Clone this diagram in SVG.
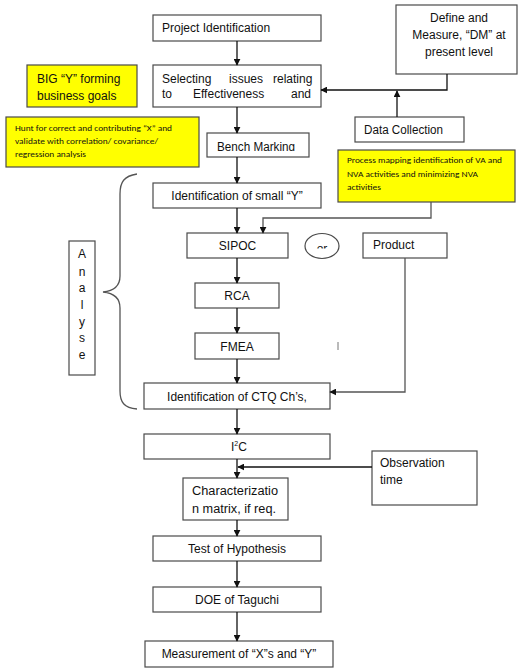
<svg xmlns="http://www.w3.org/2000/svg" width="518" height="668" viewBox="0 0 518 668">
<style>
.box{fill:#fff;stroke:#4a4a4a;stroke-width:1.2}
.yel{fill:#ffff00;stroke:#4a4a4a;stroke-width:1.2}
.t{font-family:"Liberation Sans",Arial,sans-serif;font-size:12px;fill:#111}
.c{text-anchor:middle}
.s{font-family:Carlito,"Open Sans","Liberation Sans",sans-serif;font-size:8px;fill:#111}
.ln{fill:none;stroke:#111;stroke-width:1.3}
.gl{fill:none;stroke:#555;stroke-width:1.3}
</style>
<defs>
<marker id="ah" viewBox="0 0 10 10" refX="9" refY="5" markerWidth="7" markerHeight="7" orient="auto" markerUnits="userSpaceOnUse">
<path d="M0,0 L10,5 L0,10 z" fill="#111"/>
</marker>
<clipPath id="clipBench"><rect x="207" y="133" width="102" height="18"/></clipPath>
<clipPath id="clipOr"><rect x="300" y="230" width="44" height="18.5"/></clipPath>
</defs>

<g id="project-identification"><rect class="box" x="153" y="15" width="168" height="26"/><text class="t" x="162" y="32" font-size="11.5">Project Identification</text></g>

<g id="selecting-issues"><rect class="box" x="153" y="65" width="168" height="42"/>
<text class="t" y="83" font-size="13"><tspan x="162">Selecting</tspan><tspan x="229">issues</tspan><tspan x="273">relating</tspan></text>
<text class="t" y="98" font-size="13"><tspan x="162">to</tspan><tspan x="193">Effectiveness</tspan><tspan x="291">and</tspan></text></g>

<g id="big-y"><rect class="yel" x="27" y="65" width="110" height="42"/>
<text class="t" x="37" y="83" font-size="13.5">BIG “Y” forming</text>
<text class="t" x="37" y="100" font-size="13.5">business goals</text></g>

<g id="hunt"><rect class="yel" x="6" y="117" width="193" height="50"/>
<text class="s" x="15" y="131" textLength="157" lengthAdjust="spacingAndGlyphs">Hunt for correct and contributing “X” and</text>
<text class="s" x="15" y="144" textLength="143" lengthAdjust="spacingAndGlyphs">validate with correlation/ covariance/</text>
<text class="s" x="15" y="157" textLength="71" lengthAdjust="spacingAndGlyphs">regression analysis</text></g>

<g id="bench-marking"><rect class="box" x="207" y="133" width="102" height="24"/>
<text class="t" x="217" y="151" clip-path="url(#clipBench)" textLength="78" lengthAdjust="spacingAndGlyphs">Bench Marking</text></g>

<g id="define-measure"><rect class="box" x="396" y="5" width="121" height="69"/>
<text class="t c" x="459" y="22" font-size="13">Define and</text>
<text class="t c" x="459" y="39" font-size="13">Measure, “DM” at</text>
<text class="t c" x="459" y="56" font-size="13">present level</text></g>

<g id="data-collection"><rect class="box" x="355" y="117" width="109" height="25"/>
<text class="t" x="364" y="134" textLength="79" lengthAdjust="spacingAndGlyphs">Data Collection</text></g>

<g id="process-mapping"><rect class="yel" x="338" y="150" width="177" height="52"/>
<text class="s" x="347" y="163" textLength="155" lengthAdjust="spacingAndGlyphs">Process mapping identification of VA and</text>
<text class="s" x="347" y="177" textLength="131" lengthAdjust="spacingAndGlyphs">NVA activities and minimizing NVA</text>
<text class="s" x="347" y="190" textLength="34" lengthAdjust="spacingAndGlyphs">activities</text></g>

<g id="identification-small-y"><rect class="box" x="153" y="183" width="168" height="25"/>
<text class="t c" x="237" y="200">Identification of small “Y”</text></g>

<g id="sipoc"><rect class="box" x="187" y="233" width="101" height="25"/>
<text class="t c" x="237.5" y="250" font-size="12.5">SIPOC</text></g>

<g id="or"><ellipse cx="322" cy="246" rx="17" ry="12.5" fill="#fff" stroke="#4a4a4a" stroke-width="1.2"/>
<text class="t c" x="322" y="252.5" clip-path="url(#clipOr)">or</text></g>

<g id="product"><rect class="box" x="363" y="233" width="84" height="25"/>
<text class="t" x="373" y="249" font-size="12.5">Product</text></g>

<g id="rca"><rect class="box" x="195" y="283" width="84" height="25"/>
<text class="t c" x="237" y="300" font-size="12.5">RCA</text></g>

<g id="fmea"><rect class="box" x="195" y="333" width="84" height="26"/>
<text class="t c" x="237" y="351" font-size="12.5">FMEA</text></g>

<g id="mark"><line x1="338" y1="342" x2="338" y2="350" stroke="#777" stroke-width="1"/></g>

<g id="identification-ctq"><rect class="box" x="144" y="383" width="186" height="26"/>
<text class="t c" x="237" y="401">Identification of CTQ Ch’s,</text></g>

<g id="analyse"><rect class="box" x="69" y="241" width="26" height="134"/>
<text class="t c" x="82" y="258">A</text>
<text class="t c" x="82" y="276">n</text>
<text class="t c" x="82" y="292">a</text>
<text class="t c" x="82" y="309">l</text>
<text class="t c" x="82" y="326">y</text>
<text class="t c" x="82" y="342">s</text>
<text class="t c" x="82" y="359">e</text></g>

<g id="brace"><path class="gl" d="M137,174 C124,176 120,182 120,194 L120,276 C120,286 113,291 103,292 C113,293 120,298 120,308 L120,391 C120,402 124,408 137,409"/></g>

<g id="i2c"><rect class="box" x="144" y="434" width="186" height="25"/>
<text class="t" x="231" y="451">I<tspan font-size="7" dy="-5">2</tspan><tspan dy="5">C</tspan></text></g>

<g id="characterization"><rect class="box" x="183" y="478" width="105" height="42"/>
<text class="t" x="192" y="495" textLength="86" lengthAdjust="spacingAndGlyphs">Characterizatio</text>
<text class="t" x="192" y="513" textLength="84" lengthAdjust="spacingAndGlyphs">n matrix, if req.</text></g>

<g id="observation"><rect class="box" x="372" y="451" width="105" height="54"/>
<text class="t" x="380" y="467">Observation</text>
<text class="t" x="380" y="484">time</text></g>

<g id="test-hypothesis"><rect class="box" x="153" y="536" width="168" height="25"/>
<text class="t c" x="237" y="553">Test of Hypothesis</text></g>

<g id="doe"><rect class="box" x="153" y="587" width="168" height="25"/>
<text class="t c" x="237" y="604">DOE of Taguchi</text></g>

<g id="measurement"><rect class="box" x="145" y="641" width="188" height="26"/>
<text class="t c" x="239" y="658">Measurement of “X”s and “Y”</text></g>

<g id="connectors">
<line class="ln" x1="237" y1="41" x2="237" y2="65" marker-end="url(#ah)"/>
<line class="ln" x1="237" y1="107" x2="237" y2="133" marker-end="url(#ah)"/>
<line class="ln" x1="237" y1="157" x2="237" y2="183" marker-end="url(#ah)"/>
<line class="ln" x1="237" y1="208" x2="237" y2="233" marker-end="url(#ah)"/>
<line class="ln" x1="237" y1="258" x2="237" y2="283" marker-end="url(#ah)"/>
<line class="ln" x1="237" y1="308" x2="237" y2="333" marker-end="url(#ah)"/>
<line class="ln" x1="237" y1="359" x2="237" y2="383" marker-end="url(#ah)"/>
<line class="ln" x1="237" y1="409" x2="237" y2="434" marker-end="url(#ah)"/>
<line class="ln" x1="237" y1="459" x2="237" y2="478" marker-end="url(#ah)"/>
<line class="ln" x1="237" y1="520" x2="237" y2="536" marker-end="url(#ah)"/>
<line class="ln" x1="237" y1="561" x2="237" y2="587" marker-end="url(#ah)"/>
<line class="ln" x1="237" y1="612" x2="237" y2="641" marker-end="url(#ah)"/>
<polyline class="ln" points="447,74 447,90 321,90" marker-end="url(#ah)"/>
<line class="ln" x1="397" y1="117" x2="397" y2="91" marker-end="url(#ah)"/>
<polyline class="gl" points="431,202 431,218 263,218 263,233" marker-end="url(#ah)"/>
<polyline class="gl" points="405,258 405,392 330,392" marker-end="url(#ah)"/>
<line class="ln" x1="372" y1="467" x2="238" y2="467" marker-end="url(#ah)"/>
</g>
</svg>
